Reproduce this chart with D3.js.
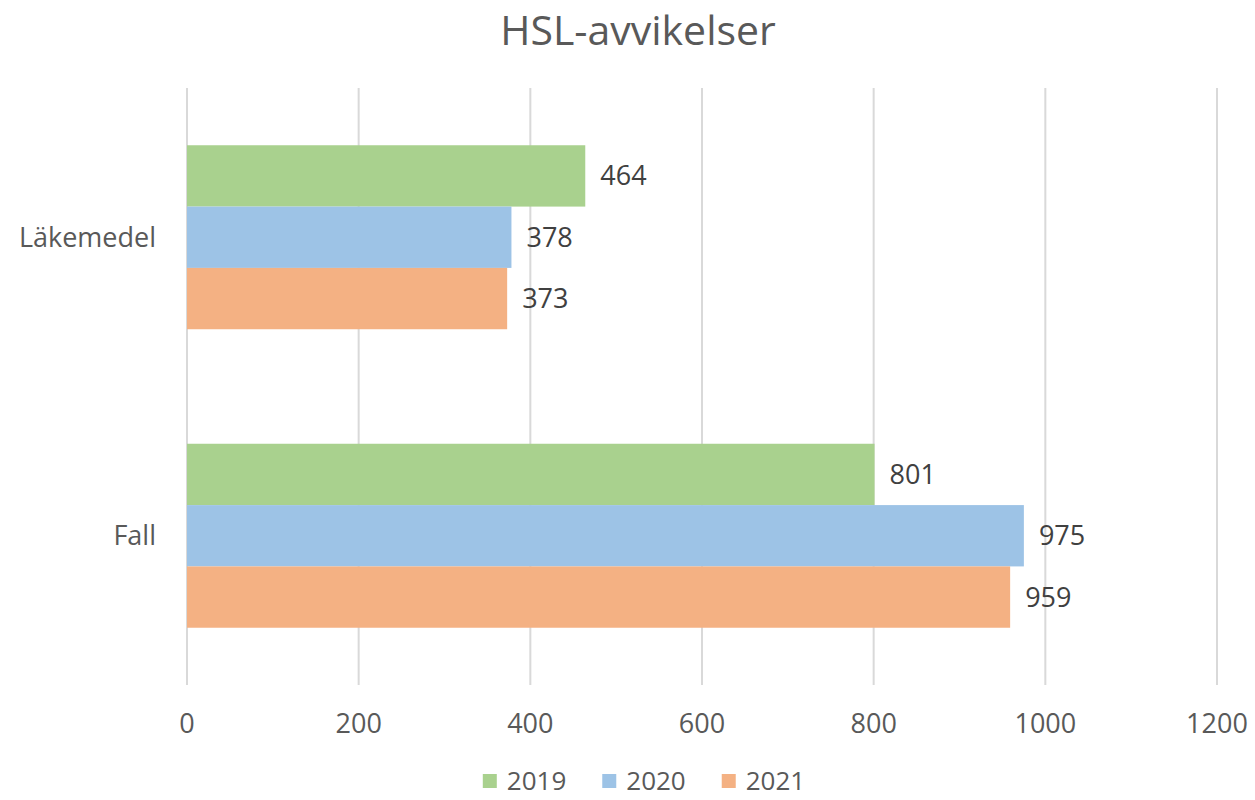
<!DOCTYPE html>
<html><head><meta charset="utf-8">
<script src="https://cdn.jsdelivr.net/npm/d3@7"></script>
<style>body{margin:0;background:#fff;} svg{display:block;font-family:"Open Sans",sans-serif;}</style>
</head><body>
<svg id="c" width="1255" height="800"></svg>
<script>
const categories = ["Läkemedel", "Fall"];
const seriesNames = ["2019", "2020", "2021"];
const values2019 = [464, 801];
const values2020 = [378, 975];
const values2021 = [373, 959];
const colors = ["#a9d18e", "#9dc3e6", "#f4b183"];
const xTicks = [0, 200, 400, 600, 800, 1000, 1200];
const title = "HSL-avvikelser";

const seriesValues = [values2019, values2020, values2021];
const svg = d3.select("#c");
const pL = 187, pR = 1217, pT = 88, pB = 685;

const x = d3.scaleLinear().domain([0, 1200]).range([pL, pR]);
const y = d3.scaleBand().domain(categories).range([pT, pB]).paddingInner(0.3836).paddingOuter(0.1918);
const ys = d3.scaleBand().domain(seriesNames).range([0, y.bandwidth()]);

// gridlines
svg.append("g").selectAll("line").data(xTicks).join("line")
  .attr("x1", d => x(d)).attr("x2", d => x(d))
  .attr("y1", pT).attr("y2", pB)
  .attr("stroke", "#d9d9d9").attr("stroke-width", 2);

// bars
const g = svg.append("g");
seriesNames.forEach((s, i) => {
  categories.forEach((c, j) => {
    const v = seriesValues[i][j];
    g.append("rect")
      .attr("x", x(0)).attr("y", y(c) + ys(s))
      .attr("width", x(v) - x(0)).attr("height", ys.bandwidth())
      .attr("fill", colors[i]);
    g.append("text")
      .attr("x", x(v) + 15).attr("y", y(c) + ys(s) + ys.bandwidth() / 2)
      .attr("dy", "0.35em").attr("font-size", 27).attr("fill", "#404040")
      .text(v);
  });
});

// x axis labels
svg.append("g").selectAll("text").data(xTicks).join("text")
  .attr("x", d => x(d)).attr("y", 724).attr("dy", "0.35em")
  .attr("text-anchor", "middle").attr("font-size", 27).attr("fill", "#595959")
  .text(d => d);

// category labels
svg.append("g").selectAll("text").data(categories).join("text")
  .attr("x", 156).attr("y", d => y(d) + y.bandwidth() / 2).attr("dy", "0.35em")
  .attr("text-anchor", "end").attr("font-size", 27).attr("fill", "#595959")
  .text(d => d);

// title
svg.append("text").attr("x", 638).attr("y", 31).attr("dy", "0.35em")
  .attr("text-anchor", "middle").attr("font-size", 41).attr("fill", "#595959")
  .text(title);

// legend
const lg = svg.append("g");
let lx = 0;
seriesNames.forEach((s, i) => {
  const it = lg.append("g").attr("transform", `translate(${lx},0)`);
  it.append("rect").attr("x", 0).attr("y", -7).attr("width", 14).attr("height", 14).attr("fill", colors[i]);
  const t = it.append("text").attr("x", 24).attr("y", 0).attr("dy", "0.35em")
    .attr("font-size", 26).attr("fill", "#595959").text(s);
  lx += 24 + t.node().getComputedTextLength() + 36;
});
const lw = lx - 36;
lg.attr("transform", `translate(${644 - lw / 2},781)`);
</script>
</body></html>
